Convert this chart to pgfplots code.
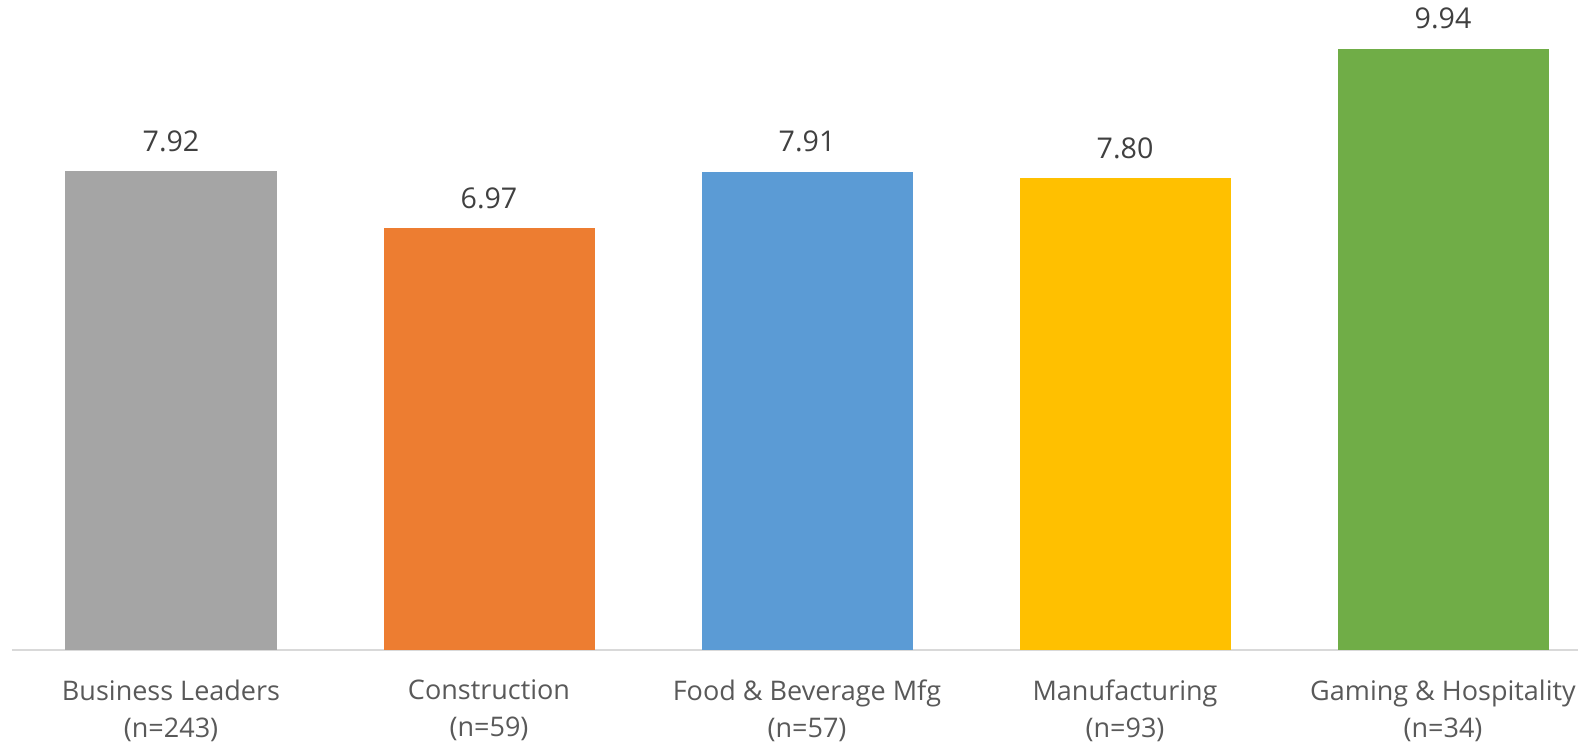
\documentclass[border=0pt]{standalone}
\usepackage{pgfplots}
\pgfplotsset{compat=1.18}
\usepackage{fontspec}
\setmainfont{Open Sans}
\definecolor{cgray}{HTML}{A5A5A5}
\definecolor{corange}{HTML}{ED7D31}
\definecolor{cblue}{HTML}{5B9BD5}
\definecolor{cgold}{HTML}{FFC000}
\definecolor{cgreen}{HTML}{70AD47}
\definecolor{axisgray}{HTML}{D9D9D9}
\definecolor{lbl}{HTML}{595959}
\definecolor{val}{HTML}{404040}
\begin{document}
\begin{tikzpicture}
\path[use as bounding box, clip] (-6pt,-48.5pt) rectangle (783pt,325pt);
\begin{axis}[
  scale only axis,
  width=795pt, height=320.5pt,
  xmin=-0.5, xmax=4.5, ymin=0, ymax=10.6,
  axis x line=bottom, axis y line=none,
  x axis line style={-, draw=axisgray, line width=0.75pt},
  xtick={0,1,2,3,4},
  xticklabels={{Business Leaders\\(n=243)},{Construction\\(n=59)},{Food \& Beverage Mfg\\(n=57)},{Manufacturing\\(n=93)},{Gaming \& Hospitality\\(n=34)}},
  xticklabel style={align=center, font=\fontsize{13.5}{18.5}\selectfont, text=lbl, anchor=north, yshift=-11.5pt},
  major tick length=0pt,
  ytick=\empty,
  ybar, bar width=105.5pt,
  /pgf/number format/assume math mode=true,
  nodes near coords={\pgfmathprintnumber[fixed,fixed zerofill,precision=2]{\pgfplotspointmeta}},
  every node near coord/.append style={anchor=base, yshift=10pt, font=\fontsize{14.3}{16}\selectfont, text=val},
  clip=false,
]
\addplot[bar shift=0pt, fill=cgray, draw=none] coordinates {(0,7.92)};
\addplot[bar shift=0pt, fill=corange, draw=none] coordinates {(1,6.97)};
\addplot[bar shift=0pt, fill=cblue, draw=none] coordinates {(2,7.91)};
\addplot[bar shift=0pt, fill=cgold, draw=none] coordinates {(3,7.80)};
\addplot[bar shift=0pt, fill=cgreen, draw=none] coordinates {(4,9.94)};
\end{axis}
\end{tikzpicture}
\end{document}
